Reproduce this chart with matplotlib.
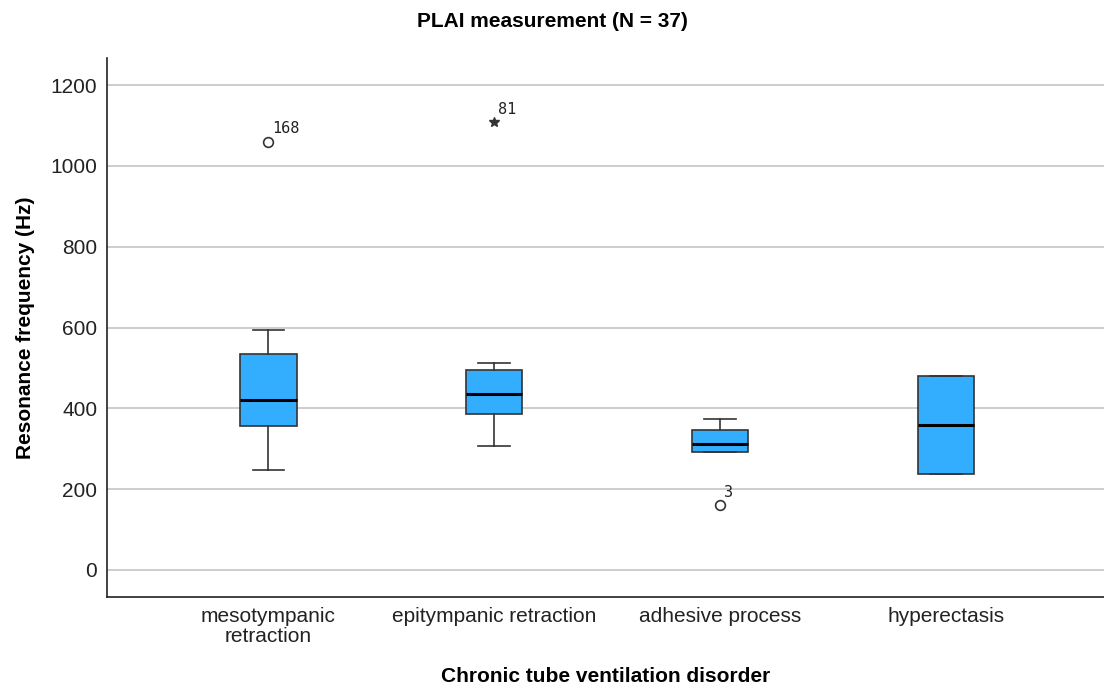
import matplotlib.pyplot as plt

# Box statistics
categories = ['mesotympanic\nretraction', 'epitympanic retraction', 'adhesive process', 'hyperectasis']
q1 = [357, 387, 291, 238]
median = [421, 435, 312, 359]
q3 = [534, 495, 346, 480]
whislo = [247, 307, 291, 238]
whishi = [594, 512, 374, 480]

# Outliers: (category index, value, case label, marker)
outlier_pos = [0, 1, 2]
outlier_val = [1060, 1108, 161]
outlier_lbl = ['168', '81', '3']
outlier_mrk = ['o', '*', 'o']

plt.rcParams['font.family'] = ['Liberation Sans', 'DejaVu Sans']

fig = plt.figure(figsize=(11.04, 6.91), dpi=100)
ax = fig.add_axes([0.0969, 0.136, 0.9031, 0.78])

stats = []
for i in range(len(categories)):
    stats.append({'q1': q1[i], 'med': median[i], 'q3': q3[i],
                  'whislo': whislo[i], 'whishi': whishi[i], 'fliers': []})

positions = list(range(len(categories)))
ax.bxp(stats, positions=positions, widths=0.25, capwidths=0.14,
       patch_artist=True, showfliers=False,
       boxprops=dict(facecolor='#33AEFF', edgecolor='#333333', linewidth=1.2),
       medianprops=dict(color='black', linewidth=2.2),
       whiskerprops=dict(color='#333333', linewidth=1.2),
       capprops=dict(color='#333333', linewidth=1.2))

# Outliers and their case labels
for p, v, lbl, m in zip(outlier_pos, outlier_val, outlier_lbl, outlier_mrk):
    if m == 'o':
        ax.plot(p, v, marker='o', markersize=7, markerfacecolor='white',
                markeredgecolor='#333333', markeredgewidth=1.2, zorder=3)
    else:
        ax.plot(p, v, marker='*', markersize=7, color='#333333', zorder=3)
    ax.annotate(lbl, (p, v), xytext=(3, 6), textcoords='offset points',
                fontsize=11, family='DejaVu Sans Mono', color='#222222')

ax.set_xlim(-0.715, 3.70)
ax.set_ylim(-67, 1267)
ax.set_yticks([0, 200, 400, 600, 800, 1000, 1200])
ax.set_xticks(positions)
ax.set_xticklabels(categories, fontsize=15, color='#222222', linespacing=1.1)
ax.tick_params(axis='y', labelsize=15, length=0, pad=7, colors='#222222')
ax.tick_params(axis='x', length=0, pad=7)

ax.yaxis.grid(True, color='#c0c0c0', linewidth=1.1)
ax.set_axisbelow(True)
for s in ['top', 'right']:
    ax.spines[s].set_visible(False)
for s in ['left', 'bottom']:
    ax.spines[s].set_color('#222222')
    ax.spines[s].set_linewidth(1.2)

ax.set_ylabel('Resonance frequency (Hz)', fontsize=15, fontweight='bold', labelpad=11)
ax.set_xlabel('Chronic tube ventilation disorder', fontsize=15, fontweight='bold', labelpad=15)
fig.suptitle('PLAI measurement (N = 37)', fontsize=15, fontweight='bold', y=0.983)

plt.savefig('out.png', dpi=100)
